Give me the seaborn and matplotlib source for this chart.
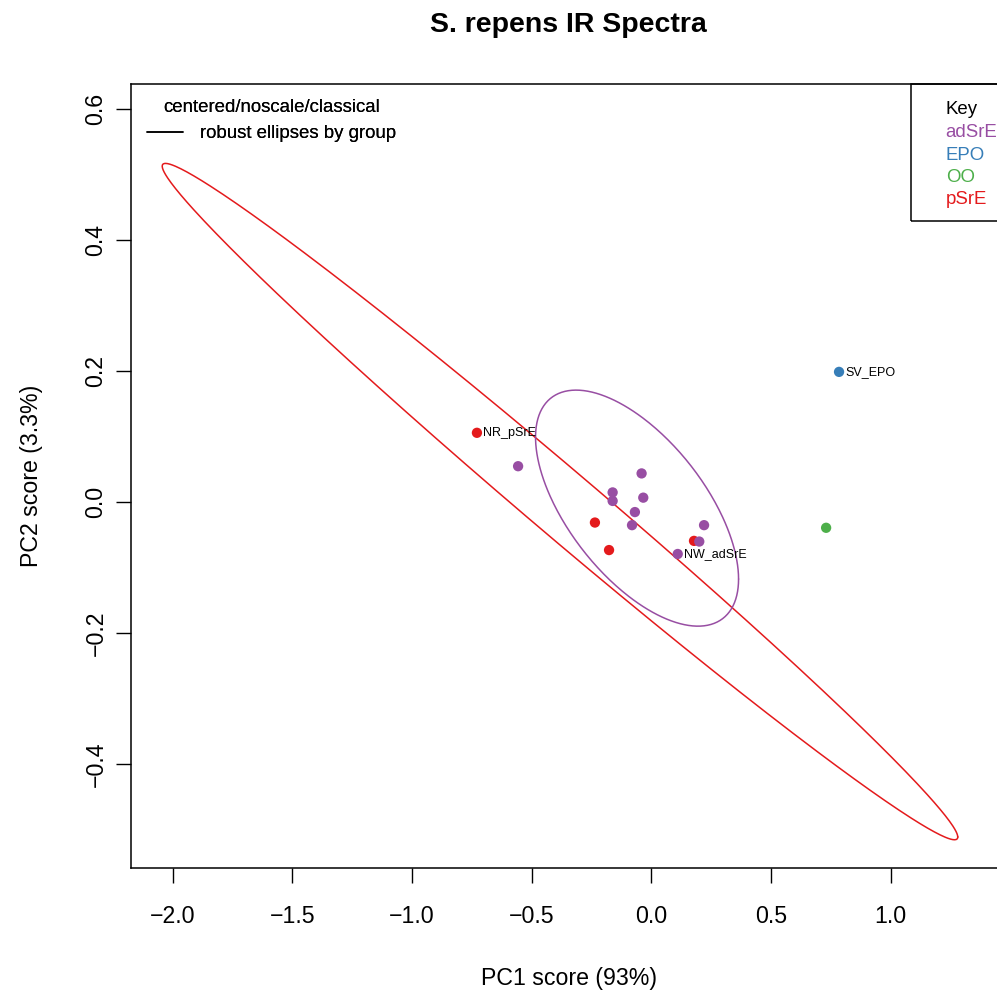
import numpy as np
import pandas as pd
import matplotlib
matplotlib.use("Agg")
import matplotlib.pyplot as plt
import seaborn as sns
from matplotlib.lines import Line2D
from matplotlib.patches import Rectangle

# PCA scores per sample (PC1, PC2)
groups = ["pSrE", "pSrE", "pSrE", "pSrE",
          "adSrE", "adSrE", "adSrE", "adSrE", "adSrE",
          "adSrE", "adSrE", "adSrE", "adSrE", "adSrE",
          "EPO", "OO"]
pc1 = [-0.729, -0.236, -0.177, 0.178,
       -0.557, -0.041, -0.162, -0.162, -0.034,
       -0.069, -0.081, 0.220, 0.200, 0.110,
       0.784, 0.730]
pc2 = [0.106, -0.031, -0.073, -0.059,
       0.055, 0.044, 0.015, 0.002, 0.007,
       -0.015, -0.035, -0.035, -0.060, -0.079,
       0.199, -0.039]
sample_labels = ["NR_pSrE", "", "", "",
                 "", "", "", "", "",
                 "", "", "", "", "NW_adSrE",
                 "SV_EPO", ""]

key_groups = ["adSrE", "EPO", "OO", "pSrE"]
key_colors = ["#984EA3", "#377EB8", "#4DAF4A", "#E41A1C"]

# robust ellipses (centre and scatter matrix) per group
ellipse_groups = ["pSrE", "adSrE"]
ellipse_centers = [(-0.382, 0.001), (-0.060, -0.009)]
ellipse_scatter = [[[2.7623, -0.8509], [-0.8509, 0.2665]],
                   [[0.1799, -0.0459], [-0.0459, 0.03246]]]

x_ticks = [-2.0, -1.5, -1.0, -0.5, 0.0, 0.5, 1.0]
y_ticks = [-0.4, -0.2, 0.0, 0.2, 0.4, 0.6]

palette = dict(zip(key_groups, key_colors))
df = pd.DataFrame({"PC1": pc1, "PC2": pc2, "group": groups, "label": sample_labels})

sns.set_style("ticks")
plt.rcParams["font.family"] = ["Liberation Sans", "DejaVu Sans"]
plt.rcParams.update({"text.color": "black", "axes.labelcolor": "black",
                     "xtick.color": "black", "ytick.color": "black",
                     "axes.edgecolor": "black"})

W, H = 997, 994
fig = plt.figure(figsize=(W / 100, H / 100), dpi=100)
left, right, top, bottom = 130.7, 1007.0, 84.3, 868.3
ax = fig.add_axes([left / W, 1 - bottom / H, (right - left) / W, (bottom - top) / H])

# ellipses
t = np.linspace(0, 2 * np.pi, 400)
circle = np.vstack([np.cos(t), np.sin(t)])
for g, c, s in zip(ellipse_groups, ellipse_centers, ellipse_scatter):
    L = np.linalg.cholesky(np.array(s))
    pts = (L @ circle).T + np.array(c)
    ax.plot(pts[:, 0], pts[:, 1], color=palette[g], lw=1.1, zorder=2)

sns.scatterplot(data=df, x="PC1", y="PC2", hue="group", palette=palette,
                s=55, edgecolor="none", linewidth=0, legend=False, ax=ax, zorder=3)

for _, r in df.iterrows():
    if r["label"]:
        ax.annotate(r["label"], (r["PC1"], r["PC2"]), xytext=(4.6, 0),
                    textcoords="offset points", ha="left", va="center",
                    fontsize=9, color="black", zorder=4)

ax.set_xlim(-2.1757, 1.4858)
ax.set_ylim(-0.5588, 0.638)
ax.set_xticks(x_ticks)
ax.set_xticklabels([f"{v:.1f}".replace("-", "\u2212") for v in x_ticks])
ax.set_yticks(y_ticks)
ax.set_yticklabels([f"{v:.1f}".replace("-", "\u2212") for v in y_ticks])
ax.tick_params(axis="both", direction="out", length=10.8, width=1.0,
               labelsize=16.7, color="black", labelcolor="black")
ax.tick_params(axis="x", pad=15.5)
ax.tick_params(axis="y", pad=6, labelrotation=90)
for lab in ax.get_yticklabels():
    lab.set_va("center")
for sp in ax.spines.values():
    sp.set_visible(True)
    sp.set_linewidth(1.1)
    sp.set_color("black")

ax.set_xlabel("PC1 score (93%)", fontsize=16.7, labelpad=28)
ax.set_ylabel("PC2 score (3.3%)", fontsize=16.7, labelpad=30)

fig.text(568.8 / W, 1 - 25 / H, "S. repens IR Spectra", ha="center", va="center",
         fontsize=20.5, fontweight="bold", color="black")

# method legend (top left)
handles = [Line2D([], [], color="black", lw=1.1)]
leg = ax.legend(handles, ["robust ellipses by group"], title="centered/noscale/classical",
                loc="upper left", bbox_to_anchor=((147 - left) / (right - left), (bottom - 99) / (bottom - top)),
                frameon=False, fontsize=13.4, title_fontsize=13.4, borderpad=0, borderaxespad=0,
                handlelength=1.95, handletextpad=0.9)
ax.add_artist(leg)

# colour key (top right)
kx0 = (911 - left) / (right - left)
ky0 = (bottom - 221) / (bottom - top)
ax.add_patch(Rectangle((kx0, ky0), 1 - kx0, 1 - ky0, transform=ax.transAxes,
                       fill=False, edgecolor="black", lw=1.1, zorder=5, clip_on=False))
tx = (945.7 - left) / (right - left)
rows_y = [110.0, 132.5, 155.0, 177.0, 199.5]
names = ["Key"] + key_groups
cols = ["black"] + key_colors
for name, col, yy in zip(names, cols, rows_y):
    ax.text(tx, (bottom - yy) / (bottom - top), name, transform=ax.transAxes,
            ha="left", va="center", fontsize=13.4, color=col, zorder=6)

fig.savefig("out.png", dpi=100)
